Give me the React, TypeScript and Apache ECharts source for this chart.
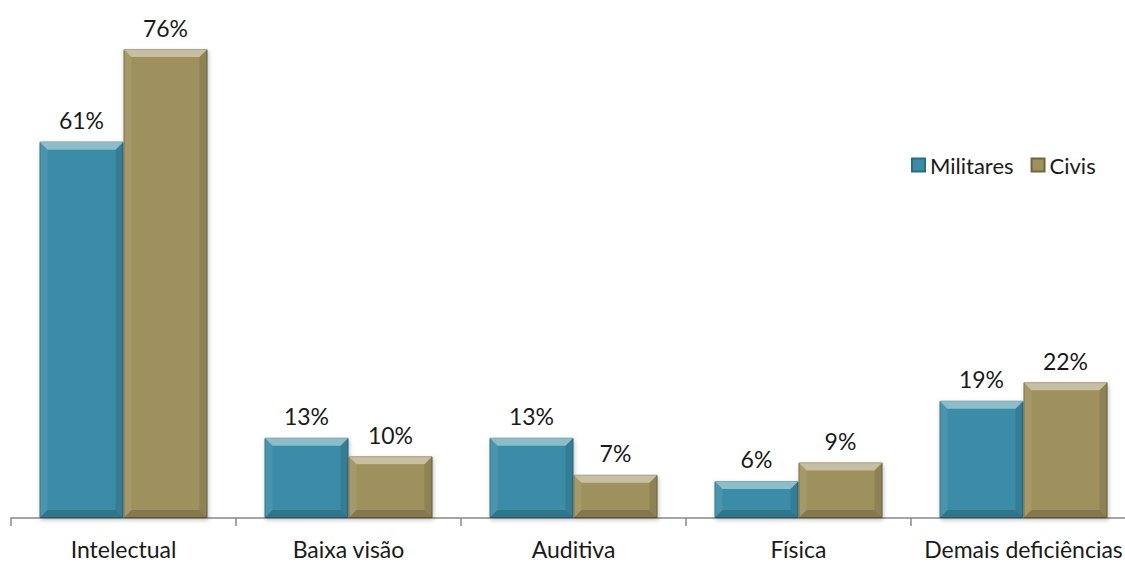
import React, { useEffect, useRef } from "react";
import * as echarts from "echarts";

const categories = ["Intelectual", "Baixa visão", "Auditiva", "Física", "Demais deficiências"];
const militares = [61, 13, 13, 6, 19];
const civis = [76, 10, 7, 9, 22];
const seriesNames = ["Militares", "Civis"];

const BAR_W = 84;

function bevelSeries(values: number[], side: number) {
  return {
    type: "custom",
    silent: true,
    z: 3,
    data: values.map((v, i) => [i, v]),
    renderItem: (_params: any, api: any) => {
      const i = api.value(0);
      const v = api.value(1);
      const top = api.coord([i, v]);
      const base = api.coord([i, 0]);
      const x0 = top[0] + (side < 0 ? -BAR_W : 0);
      const x1 = x0 + BAR_W;
      const y0 = top[1];
      const y1 = base[1];
      const b = Math.min(8, (y1 - y0) / 2);
      return {
        type: "group",
        children: [
          {
            type: "polygon",
            shape: { points: [[x0, y0], [x1, y0], [x1 - b, y0 + b], [x0 + b, y0 + b]] },
            style: { fill: "rgba(255,255,255,0.42)" },
          },
          {
            type: "polygon",
            shape: { points: [[x0, y0], [x0 + b, y0 + b], [x0 + b, y1 - b], [x0, y1]] },
            style: { fill: "rgba(255,255,255,0.08)" },
          },
          {
            type: "polygon",
            shape: { points: [[x1, y0], [x1 - b, y0 + b], [x1 - b, y1 - b], [x1, y1]] },
            style: { fill: "rgba(0,0,0,0.10)" },
          },
          {
            type: "polygon",
            shape: { points: [[x0, y1], [x1, y1], [x1 - b, y1 - b], [x0 + b, y1 - b]] },
            style: { fill: "rgba(0,0,0,0.16)" },
          },
        ],
      };
    },
  };
}

export default function App() {
  const ref = useRef<HTMLDivElement>(null);
  useEffect(() => {
    document.body.style.margin = "0";
    const chart = echarts.init(ref.current!, null, { renderer: "svg" });
    const font = "Lato, 'Open Sans', sans-serif";
    const label = {
      show: true,
      position: "top" as const,
      distance: 10,
      formatter: "{c}%",
      fontSize: 23,
      fontFamily: font,
      color: "#1a1a1a",
    };
    const shadow = {
      shadowColor: "rgba(0,0,0,0.25)",
      shadowBlur: 4,
      shadowOffsetX: 1,
      shadowOffsetY: 2,
    };
    chart.setOption({
      animation: false,
      grid: { left: 11, width: 1125, top: 24.4, bottom: 45, outerBoundsMode: "none", containLabel: false },
      legend: {
        left: 906,
        top: 149,
        itemWidth: 13,
        itemHeight: 13,
        itemGap: 17,
        icon: "rect",
        textStyle: { fontSize: 22, fontFamily: font, color: "#1a1a1a" },
        data: seriesNames,
      },
      xAxis: {
        type: "category",
        data: categories,
        axisLine: { lineStyle: { color: "#888", width: 1.5 } },
        axisTick: { show: true, length: 8, lineStyle: { color: "#888", width: 1.5 } },
        axisLabel: {
          interval: 0,
          fontSize: 23,
          lineHeight: 23,
          fontFamily: font,
          color: "#1a1a1a",
          margin: 19,
        },
      },
      yAxis: {
        type: "value",
        min: 0,
        max: 80,
        show: false,
        splitLine: { show: false },
      },
      series: [
        {
          name: seriesNames[0],
          type: "bar",
          data: militares,
          barWidth: BAR_W,
          barGap: "0%",
          label,
          itemStyle: { color: "#3b8ca6", borderColor: "#2a6d82", borderWidth: 1, ...shadow },
        },
        {
          name: seriesNames[1],
          type: "bar",
          data: civis,
          barWidth: BAR_W,
          barGap: "0%",
          label,
          itemStyle: { color: "#9e915d", borderColor: "#6f6640", borderWidth: 1, ...shadow },
        },
        bevelSeries(militares, -1),
        bevelSeries(civis, 1),
      ],
    });
    return () => chart.dispose();
  }, []);
  return <div ref={ref} style={{ width: 1125, height: 563 }} />;
}
